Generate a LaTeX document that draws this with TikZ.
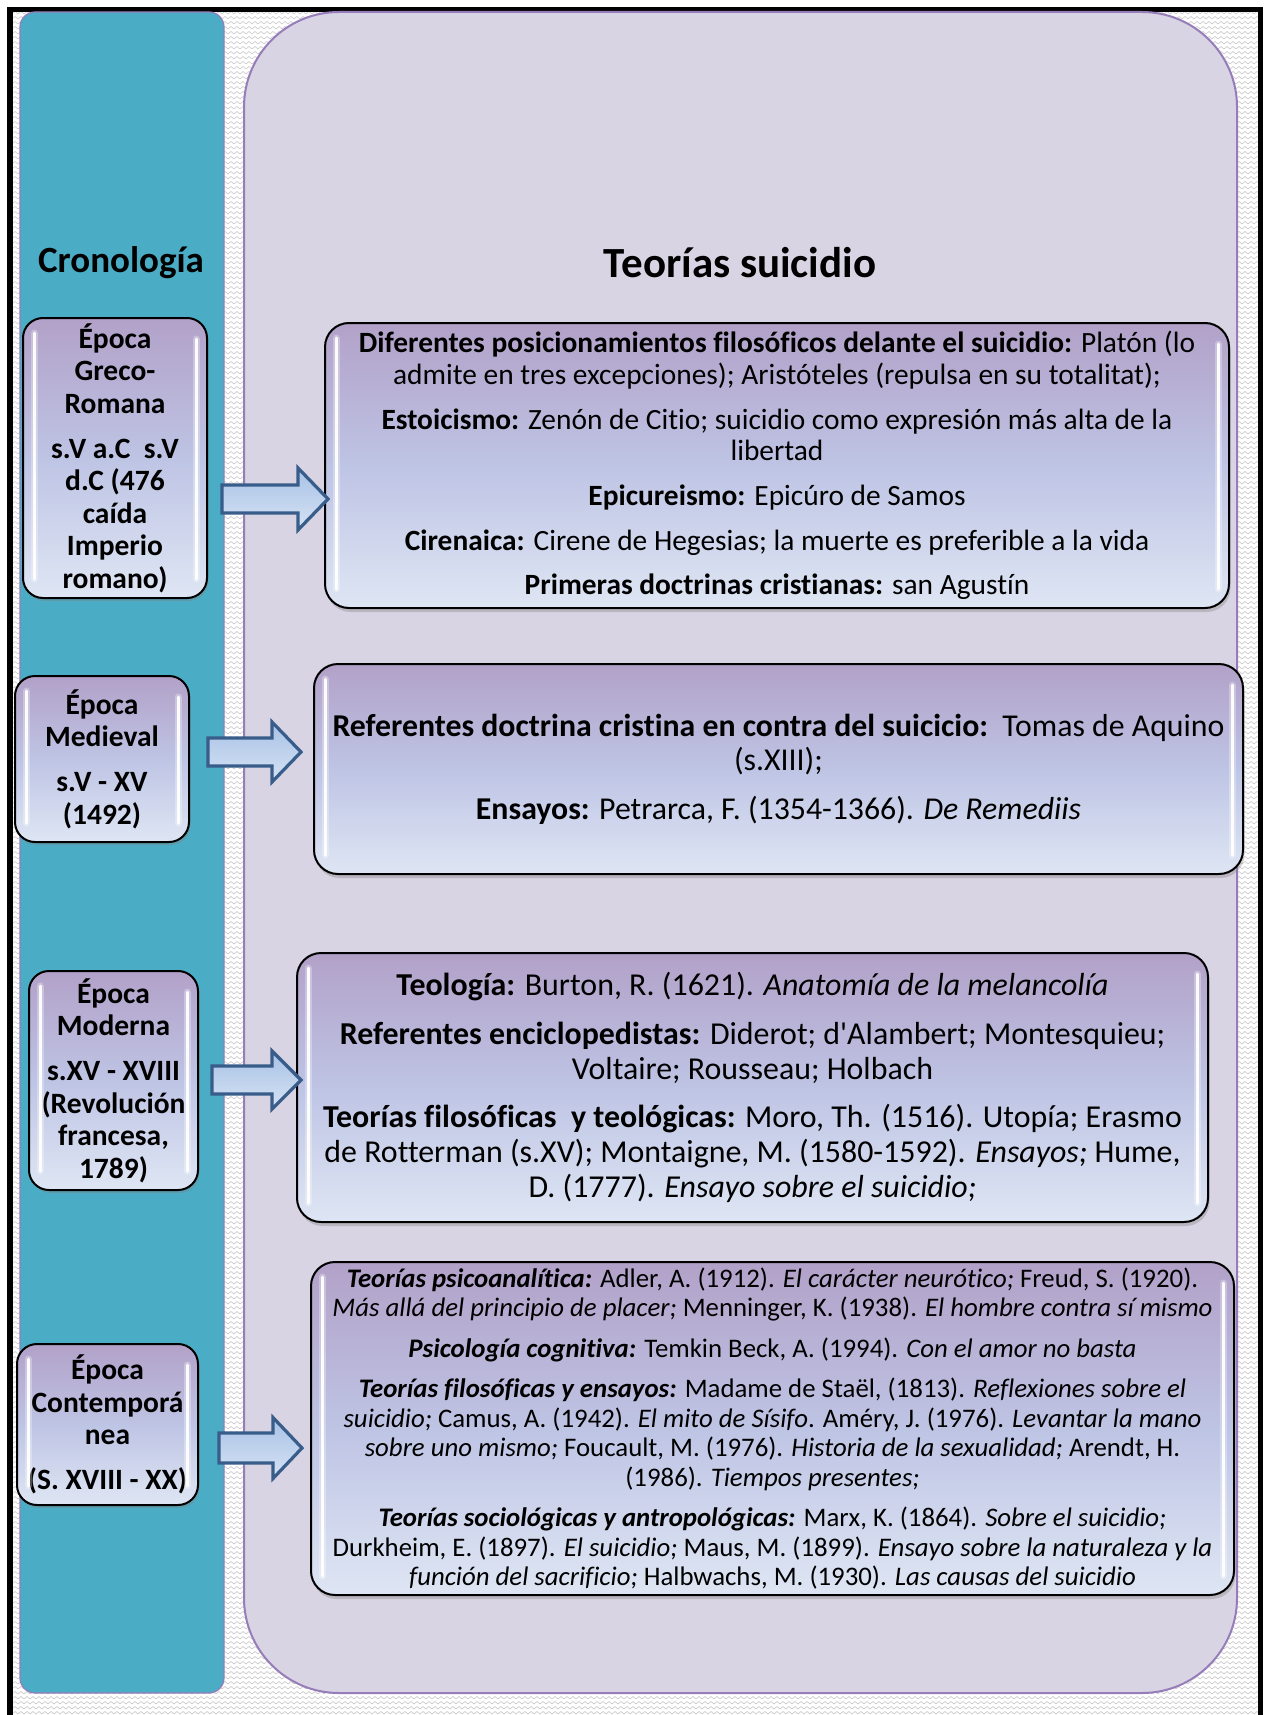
\documentclass[tikz,border=0pt]{standalone}
\usepackage{fontspec}
\setmainfont[Ligatures={TeX,NoCommon}]{Carlito}
\usetikzlibrary{patterns,shadows}
\definecolor{tealcol}{RGB}{75,172,198}
\definecolor{panelfill}{RGB}{216,212,227}
\definecolor{panelborder}{RGB}{150,125,185}
\definecolor{boxtop}{RGB}{178,161,200}
\definecolor{boxmid}{RGB}{190,196,228}
\definecolor{boxbot}{RGB}{222,230,244}
\definecolor{arrowline}{RGB}{56,93,138}
\definecolor{arrowtop}{RGB}{168,194,230}
\definecolor{arrowbot}{RGB}{214,226,244}
\definecolor{zigcol}{RGB}{200,200,200}
\pgfdeclarepatternformonly{zigbg}{\pgfpoint{-1pt}{-1pt}}{\pgfpoint{7pt}{7pt}}{\pgfpoint{6pt}{5pt}}{%
  \pgfsetlinewidth{0.6pt}%
  \pgfpathmoveto{\pgfpoint{0pt}{1pt}}%
  \pgfpathlineto{\pgfpoint{3pt}{3.5pt}}%
  \pgfpathlineto{\pgfpoint{6pt}{1pt}}%
  \pgfusepath{stroke}}
\tikzset{
  epochbox/.style={draw=black, line width=2pt, rounded corners=20pt,
    top color=boxtop, bottom color=boxbot, middle color=boxmid,
    drop shadow={shadow xshift=1.5pt, shadow yshift=-3pt, opacity=0.35},
    align=center, inner sep=0pt, font=\bfseries\fontsize{29.5}{32.5}\selectfont},
  theorybox/.style={draw=black, line width=2pt, rounded corners=24pt,
    top color=boxtop, bottom color=boxbot, middle color=boxmid,
    drop shadow={shadow xshift=1.5pt, shadow yshift=-4pt, opacity=0.35},
    align=center, inner sep=0pt},
  glossglow/.style={white, line width=7pt, line cap=round, opacity=0.3},
  glossline/.style={white, line width=3pt, line cap=round, opacity=0.95},
  blockarrow/.style={draw=arrowline, line width=3.2pt, line join=miter,
    top color=arrowtop, bottom color=arrowbot},
}
\newcommand{\myblockarrow}[6]{% x1, x2, y, shaft half, head half, head length
  \draw[blockarrow] (#1,#3-#4) -- (#2-#6,#3-#4) -- (#2-#6,#3-#5) -- (#2,#3)
    -- (#2-#6,#3+#5) -- (#2-#6,#3+#4) -- (#1,#3+#4) -- cycle;}
\newcommand{\mygloss}[1]{%
  \draw[glossglow] ([xshift=12pt,yshift=-16pt]#1.north west) -- ([xshift=12pt,yshift=20pt]#1.south west);
  \draw[glossline] ([xshift=12pt,yshift=-16pt]#1.north west) -- ([xshift=12pt,yshift=20pt]#1.south west);
  \draw[glossglow] ([xshift=-12pt,yshift=-22pt]#1.north east) -- ([xshift=-12pt,yshift=20pt]#1.south east);
  \draw[glossline] ([xshift=-12pt,yshift=-22pt]#1.north east) -- ([xshift=-12pt,yshift=20pt]#1.south east);}
\begin{document}
\lineskiplimit=-100pt
\begin{tikzpicture}[x=1pt,y=-1pt]
\useasboundingbox (0,0) rectangle (1264,1715);
\fill[white] (0,0) rectangle (1264,1715);
% textured background
\fill[pattern=zigbg, pattern color=zigcol] (13,12) rectangle (1258,1715);
% black frame
\fill[black] (7,7) rectangle (13,1715);
\fill[black] (7,7) rectangle (1263,12);
\fill[black] (1258,7) rectangle (1263,1715);
% columns
\draw[fill=tealcol, draw=panelborder, line width=1.2pt, rounded corners=15pt] (20,12) rectangle (224,1693);
\draw[fill=panelfill, draw=panelborder, line width=2pt, rounded corners=95pt] (244,12) rectangle (1237,1693);
% titles
\node[font=\bfseries\fontsize{37}{44}\selectfont] (cron) at (121,263) {Cronología};
\node[font=\bfseries\fontsize{43}{50}\selectfont] (teor) at (740,263) {Teorías suicidio};
% epoch boxes
\node[epochbox, minimum width=184pt, minimum height=280pt] (L1) at (115,458)
  {Época\\Greco-\\Romana\\[12.5pt]s.V a.C\ \ s.V\\d.C (476\\caída\\Imperio\\romano)};
\node[epochbox, minimum width=174pt, minimum height=166pt] (L2) at (102,759)
  {Época\\Medieval\\[12.5pt]s.V - XV\\(1492)};
\node[epochbox, minimum width=169pt, minimum height=219pt] (L3) at (113.5,1080.5)
  {Época\\Moderna\\[12.5pt]s.XV - XVIII\\(Revolución\\francesa,\\1789)};
\node[epochbox, minimum width=181pt, minimum height=161pt] (L4) at (107.5,1424.5)
  {Época\\Contemporá\\nea\\[12.5pt](S. XVIII - XX)};
% theory boxes
\node[theorybox, minimum width=904pt, minimum height=285pt, font=\fontsize{29.4}{31.7}\selectfont] (R1) at (777,465.5)
  {\textbf{Diferentes posicionamientos filosóficos delante el suicidio:} Platón (lo\\
   admite en tres excepciones); Aristóteles (repulsa en su totalitat);\\[13pt]
   \textbf{Estoicismo:} Zenón de Citio; suicidio como expresión más alta de la\\
   libertad\\[13pt]
   \textbf{Epicureismo:} Epicúro de Samos\\[13pt]
   \textbf{Cirenaica:} Cirene de Hegesias; la muerte es preferible a la vida\\[13pt]
   \textbf{Primeras doctrinas cristianas:} san Agustín};
\node[theorybox, minimum width=929pt, minimum height=210pt, font=\fontsize{31.8}{34}\selectfont] (R2) at (778.5,769)
  {\textbf{Referentes doctrina cristina en contra del suicicio:}\ \ Tomas de Aquino\\
   (s.XIII);\\[15pt]
   \textbf{Ensayos:} Petrarca, F. (1354-1366). \textit{De Remediis}};
\node[theorybox, minimum width=911pt, minimum height=269pt, font=\fontsize{31.9}{35}\selectfont] (R3) at (752.5,1087.5)
  {\textbf{Teología:} Burton, R. (1621). \textit{Anatomía de la melancolía}\\[13.5pt]
   \textbf{Referentes enciclopedistas:} Diderot; d\textquotesingle Alambert; Montesquieu;\\
   Voltaire; Rousseau; Holbach\\[13.5pt]
   \textbf{Teorías filosóficas\ \ y teológicas:} Moro, Th. (1516). Utopía; Erasmo\\
   de Rotterman (s.XV); Montaigne, M. (1580-1592). \textit{Ensayos;} Hume,\\
   D. (1777). \textit{Ensayo sobre el suicidio;}};
\node[theorybox, minimum width=923pt, minimum height=333pt, font=\fontsize{26.8}{29.5}\selectfont] (R4) at (772.5,1428.5)
  {\textbf{\textit{Teorías psicoanalítica:}} Adler, A. (1912). \textit{El carácter neurótico;} Freud, S. (1920).\\
   \textit{Más allá del principio de placer;} Menninger,\ K. (1938). \textit{El hombre contra sí mismo}\\[11pt]
   \textbf{\textit{Psicología cognitiva:}} Temkin Beck, A. (1994). \textit{Con el amor no basta}\\[11pt]
   \textbf{\textit{Teorías filosóficas y ensayos:}} Madame de Staël, (1813). \textit{Reflexiones sobre el}\\
   \textit{suicidio;} Camus, A. (1942). \textit{El mito de Sísifo}. Améry, J. (1976). \textit{Levantar la mano}\\
   \textit{sobre uno mismo;} Foucault, M. (1976). \textit{Historia de la sexualidad;} Arendt, H.\\
   (1986). \textit{Tiempos presentes;}\\[11pt]
   \textbf{\textit{Teorías sociológicas y antropológicas:}} Marx, K. (1864). \textit{Sobre el suicidio;}\\
   Durkheim, E. (1897). \textit{El suicidio;} Maus, M. (1899). \textit{Ensayo sobre la naturaleza y la}\\
   \textit{función del sacrificio;} Halbwachs, M. (1930). \textit{Las causas del suicidio}};
% glossy highlights
\mygloss{L1}\mygloss{L2}\mygloss{L3}\mygloss{L4}
\mygloss{R1}\mygloss{R2}\mygloss{R3}\mygloss{R4}
% block arrows
\myblockarrow{222}{328}{499}{14}{31}{30}
\myblockarrow{208}{301}{752}{14}{30}{29}
\myblockarrow{212}{301}{1080}{14}{29}{29}
\myblockarrow{219}{302}{1448}{15}{30.5}{29}
\end{tikzpicture}
\end{document}
